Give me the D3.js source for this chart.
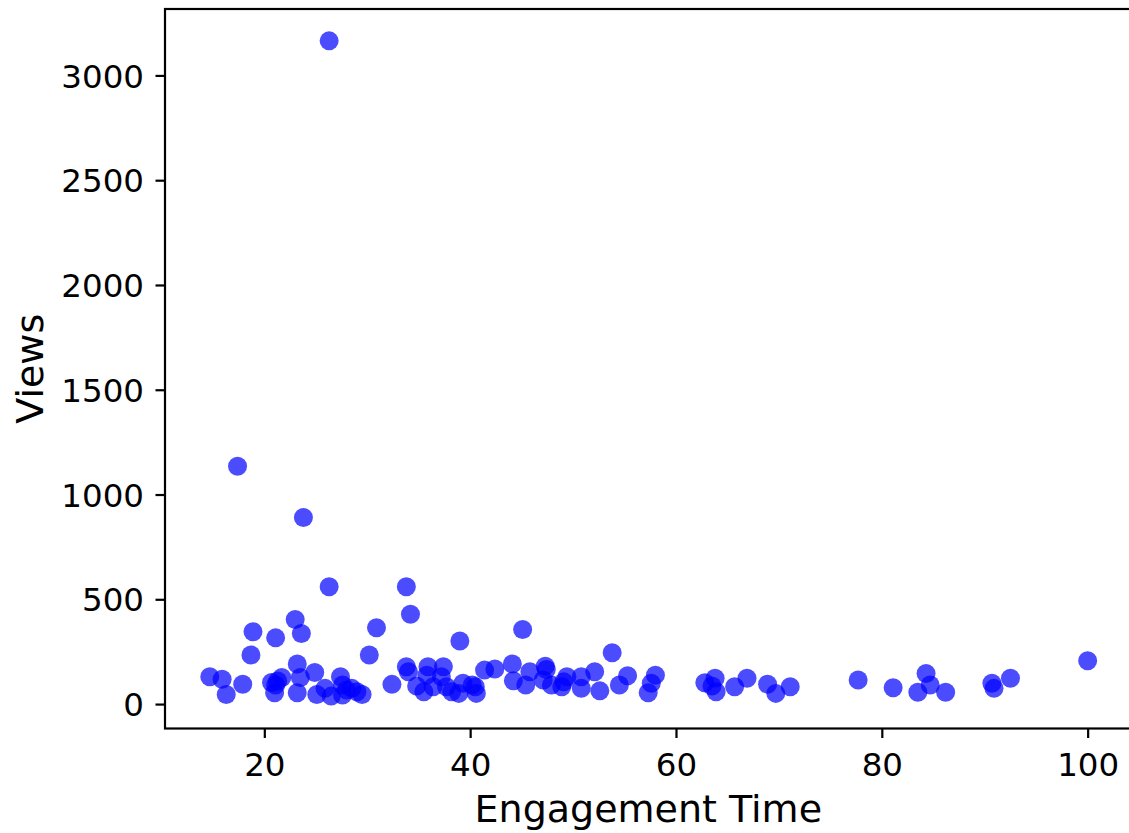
<!DOCTYPE html>
<html>
<head>
<meta charset="utf-8">
<script src="https://cdn.jsdelivr.net/npm/d3@7"></script>
<style>
  html, body { margin: 0; padding: 0; background: #fff; }
  svg { display: block; }
  text { font-family: "DejaVu Sans", sans-serif; fill: #000; }
</style>
</head>
<body>
<svg id="chart" width="1129" height="833"></svg>
<script>
// Data
const engagementTime = [
  26.3, 17.4, 23.8, 26.3, 33.8, 14.7, 15.9, 16.3, 17.9, 18.9,
  18.7, 21.1, 20.7, 21.0, 21.7, 21.1, 21.3, 23.0, 23.6, 23.2,
  23.5, 23.2, 24.9, 25.1, 25.9, 26.5, 27.4, 27.6, 28.0, 28.5,
  29.0, 29.5, 27.6, 30.2, 30.9, 32.4, 34.2, 33.8, 34.0, 34.8,
  35.5, 35.9, 35.8, 36.4, 37.4, 37.2, 37.7, 38.2, 39.0, 38.9,
  39.3, 40.2, 40.6, 40.5, 41.4, 42.4, 44.1, 45.1, 44.2, 45.4,
  45.8, 47.3, 47.4, 47.1, 47.9, 49.1, 49.4, 48.9, 50.8, 50.8,
  52.1, 52.6, 53.8, 54.5, 55.3, 58.0, 57.6, 57.3, 62.8, 63.8,
  63.5, 63.9, 65.7, 66.9, 68.9, 69.7, 71.1, 77.7, 81.1, 83.5,
  84.3, 84.7, 86.2, 90.7, 90.9, 92.5, 100.0
];
const views = [
  3165, 1135, 890, 560, 560, 130, 118, 46, 95, 345,
  234, 316, 103, 54, 127, 91, 110, 404, 337, 191,
  127, 54, 151, 46, 75, 38, 130, 91, 67, 75,
  59, 46, 43, 234, 364, 94, 429, 178, 154, 86,
  59, 178, 138, 83, 178, 130, 83, 59, 301, 51,
  99, 91, 51, 83, 162, 167, 191, 356, 111, 91,
  154, 181, 165, 115, 91, 106, 130, 83, 130, 75,
  154, 63, 245, 91, 135, 138, 99, 54, 102, 123,
  86, 59, 83, 123, 95, 51, 83, 115, 78, 56,
  146, 91, 56, 99, 75, 123, 207
];
const xTicks = [20, 40, 60, 80, 100];
const yTicks = [0, 500, 1000, 1500, 2000, 2500, 3000];
const xLabel = "Engagement Time";
const yLabel = "Views";

const svg = d3.select("#chart");
const pLeft = 165, pRight = 1131.6, pTop = 9, pBottom = 728.5;

const x = d3.scaleLinear().domain([10.35, 104.27]).range([pLeft, pRight]);
const y = d3.scaleLinear().domain([-116.6, 3317]).range([pBottom, pTop]);

const tickFont = 32.5;

// Points
svg.append("g")
  .selectAll("circle")
  .data(engagementTime.map((d, i) => ({ x: d, y: views[i] })))
  .join("circle")
  .attr("cx", d => x(d.x))
  .attr("cy", d => y(d.y))
  .attr("r", 9.5)
  .attr("fill", "#0000ff")
  .attr("fill-opacity", 0.7);

// X axis
const gx = svg.append("g")
  .attr("transform", `translate(0,${pBottom})`)
  .call(d3.axisBottom(x).tickValues(xTicks).tickFormat(d3.format("d")).tickSize(9.5).tickPadding(15));
gx.select(".domain").remove();
gx.selectAll(".tick line").attr("stroke", "#000").attr("stroke-width", 2.2);
gx.selectAll(".tick text").attr("font-size", tickFont).attr("font-family", "DejaVu Sans").attr("fill", "#000");

// Y axis
const gy = svg.append("g")
  .attr("transform", `translate(${pLeft},0)`)
  .call(d3.axisLeft(y).tickValues(yTicks).tickFormat(d3.format("d")).tickSize(9.5).tickPadding(11.5));
gy.select(".domain").remove();
gy.selectAll(".tick line").attr("stroke", "#000").attr("stroke-width", 2.2);
gy.selectAll(".tick text").attr("font-size", tickFont).attr("font-family", "DejaVu Sans").attr("fill", "#000").attr("dy", "0.36em");

// Spines
svg.append("rect")
  .attr("x", pLeft).attr("y", pTop)
  .attr("width", pRight - pLeft).attr("height", pBottom - pTop)
  .attr("fill", "none").attr("stroke", "#000").attr("stroke-width", 2.2);

// Axis labels
svg.append("text")
  .attr("x", (pLeft + pRight) / 2)
  .attr("y", 822)
  .attr("text-anchor", "middle")
  .attr("font-size", 38)
  .text(xLabel);

svg.append("text")
  .attr("transform", `translate(43,${(pTop + pBottom) / 2}) rotate(-90)`)
  .attr("text-anchor", "middle")
  .attr("font-size", 38)
  .text(yLabel);
</script>
</body>
</html>
